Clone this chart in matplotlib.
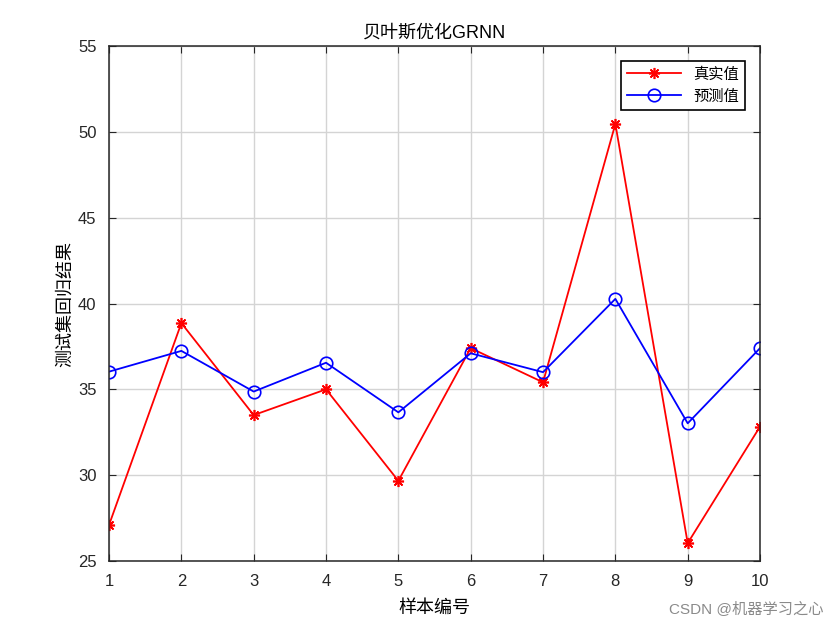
import matplotlib
matplotlib.use('Agg')
import matplotlib.pyplot as plt

plt.rcParams['font.family'] = ['Liberation Sans', 'Noto Sans CJK SC', 'DejaVu Sans']
plt.rcParams['axes.unicode_minus'] = False

samples = list(range(1, 11))
true_vals = [27.1, 38.86, 33.5, 35.0, 29.67, 37.4, 35.41, 50.46, 26.04, 32.83]
pred_vals = [36.03, 37.24, 34.87, 36.55, 33.66, 37.1, 36.0, 40.27, 33.02, 37.4]

fig = plt.figure(figsize=(8.4, 6.3), dpi=100)
ax = fig.add_axes([0.1298, 0.1095, 0.775, 0.8175])

ax.plot(samples, true_vals, color='red', marker=(8, 2, 0), markersize=8, markeredgewidth=1.2,
        linewidth=1.3, label='真实值')
ax.plot(samples, pred_vals, color='blue', marker='o', markersize=9, markerfacecolor='none',
        markeredgewidth=1.2, linewidth=1.3, label='预测值')

ax.set_xlim(1, 10)
ax.set_ylim(25, 55)
ax.set_xticks(samples)
ax.set_yticks(range(25, 56, 5))
ax.grid(True, color='#d4d4d4', linewidth=1)
ax.tick_params(direction='in', top=True, right=True, labelsize=12, colors='#262626',
               length=5, pad=9)
for s in ax.spines.values():
    s.set_color('#262626')
    s.set_linewidth(1.1)

ax.set_title('贝叶斯优化GRNN', fontsize=13)
ax.set_xlabel('样本编号', fontsize=13, labelpad=8)
ax.set_ylabel('测试集回归结果', fontsize=13, labelpad=3)

leg = ax.legend(loc='upper right', fontsize=11, fancybox=False, framealpha=1,
                edgecolor='black', borderaxespad=1.0, handlelength=3.5)
leg.get_frame().set_linewidth(1.2)

fig.text(0.98, 0.02, 'CSDN @机器学习之心', ha='right', va='bottom', fontsize=11, color='#8a8a8a')

fig.savefig('out.png', dpi=100)
